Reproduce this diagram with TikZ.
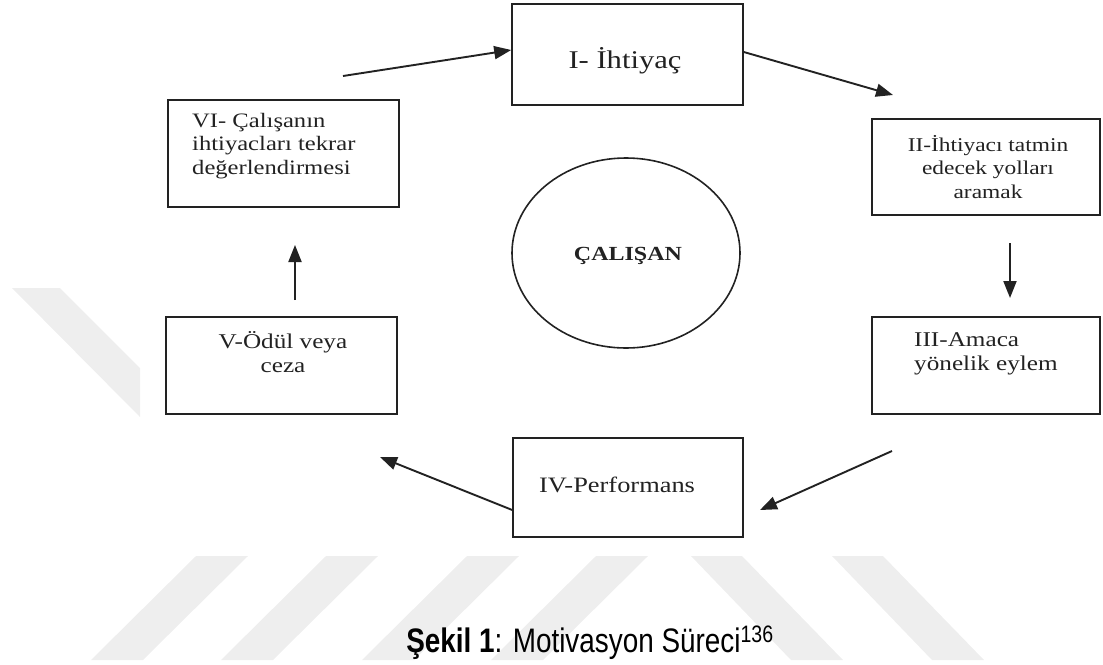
\documentclass[tikz,border=0pt]{standalone}
\usepackage{fontspec}
\setmainfont{Liberation Serif}[FakeStretch=1.2]
\newfontfamily\capfont{Liberation Sans}[FakeStretch=0.82]
\usetikzlibrary{arrows.meta,shapes.geometric}
\definecolor{wm}{HTML}{EEEEEE}
\definecolor{ink}{HTML}{222222}
\begin{document}
\begin{tikzpicture}[x=1pt,y=-1pt,
  box/.style={draw=ink,line width=1.6pt,inner sep=0pt,rectangle},
  lbl/.style={text=ink,inner sep=0pt,align=center},
  arr/.style={draw=ink,line width=1.9pt,-{Triangle[length=17pt,width=13pt]}},
  stripe/.style={fill=wm,draw=none}]
\useasboundingbox (0,0) rectangle (1103,664);
% watermark
\fill[stripe] (12,288) -- (60,288) -- (140,368) -- (140,417) -- cycle;
\foreach \x in {196,326,467,596}{
  \fill[stripe] (\x,556) -- (\x+52,556) -- (\x-53,660) -- (\x-105,660) -- cycle;}
\foreach \x in {691,832}{
  \fill[stripe] (\x,556) -- (\x+51,556) -- (\x+152,660) -- (\x+100,660) -- cycle;}
% boxes
\node[box,minimum width=231pt,minimum height=101pt] (I) at (627.5,54.5) {};
\node[box,minimum width=231pt,minimum height=107pt] (VI) at (283.5,153.5) {};
\node[box,minimum width=228pt,minimum height=96pt] (II) at (986,167) {};
\node[box,minimum width=228pt,minimum height=97pt] (III) at (986,365.5) {};
\node[box,minimum width=230pt,minimum height=99pt] (IV) at (628,487.5) {};
\node[box,minimum width=231pt,minimum height=97pt] (V) at (281.5,365.5) {};
\node[draw=ink,line width=1.6pt,ellipse,minimum width=228pt,minimum height=190pt,inner sep=0pt] (C) at (626,253) {};
% labels
\node[lbl,font=\fontsize{25.5}{28}\selectfont,anchor=base] (tI) at (625,68) {I- İhtiyaç};
\node[lbl,font=\fontsize{20.5}{23.5}\selectfont,anchor=west,align=left] (tVI) at (192,146) {VI- Çalışanın\\ihtiyacları tekrar\\değerlendirmesi};
\node[lbl,font=\fontsize{19.5}{23.5}\selectfont] (tII) at (988,167) {II-İhtiyacı tatmin\\edecek yolları\\aramak};
\node[lbl,font=\fontsize{21}{23.5}\selectfont,anchor=west,align=left] (tIII) at (914,354) {III-Amaca\\yönelik eylem};
\node[lbl,font=\fontsize{22}{25}\selectfont,anchor=base] (tIV) at (617,492) {IV-Performans};
\node[lbl,font=\fontsize{21}{23.5}\selectfont] (tV) at (283,352) {V-Ödül veya\\ceza};
\node[lbl,font=\fontsize{20}{24}\bfseries,anchor=base] (tC) at (628,260) {ÇALIŞAN};
% arrow end points
\coordinate (a1) at (343,76);  \coordinate (b1) at (I.west |- 0,50);
\coordinate (a2) at (I.east |- 0,52);  \coordinate (b2) at (893,95);
\coordinate (a3) at (1010,243); \coordinate (b3) at (1010,298);
\coordinate (a4) at (892,451); \coordinate (b4) at (760,510);
\coordinate (a5) at (IV.west |- 0,510); \coordinate (b5) at (380,457);
\coordinate (a6) at (295,300); \coordinate (b6) at (295,245);
\draw[arr] (a1) -- (b1);
\draw[arr] (a2) -- (b2);
\draw[arr] (a3) -- (b3);
\draw[arr] (a4) -- (b4);
\draw[arr] (a5) -- (b5);
\draw[arr] (a6) -- (b6);
% caption
\node[font=\capfont\fontsize{34}{38}\selectfont,inner sep=0pt,anchor=base] (cap) at (590,652) {\textbf{Şekil 1}: Motivasyon Süreci\textsuperscript{136}};
\end{tikzpicture}
\end{document}
